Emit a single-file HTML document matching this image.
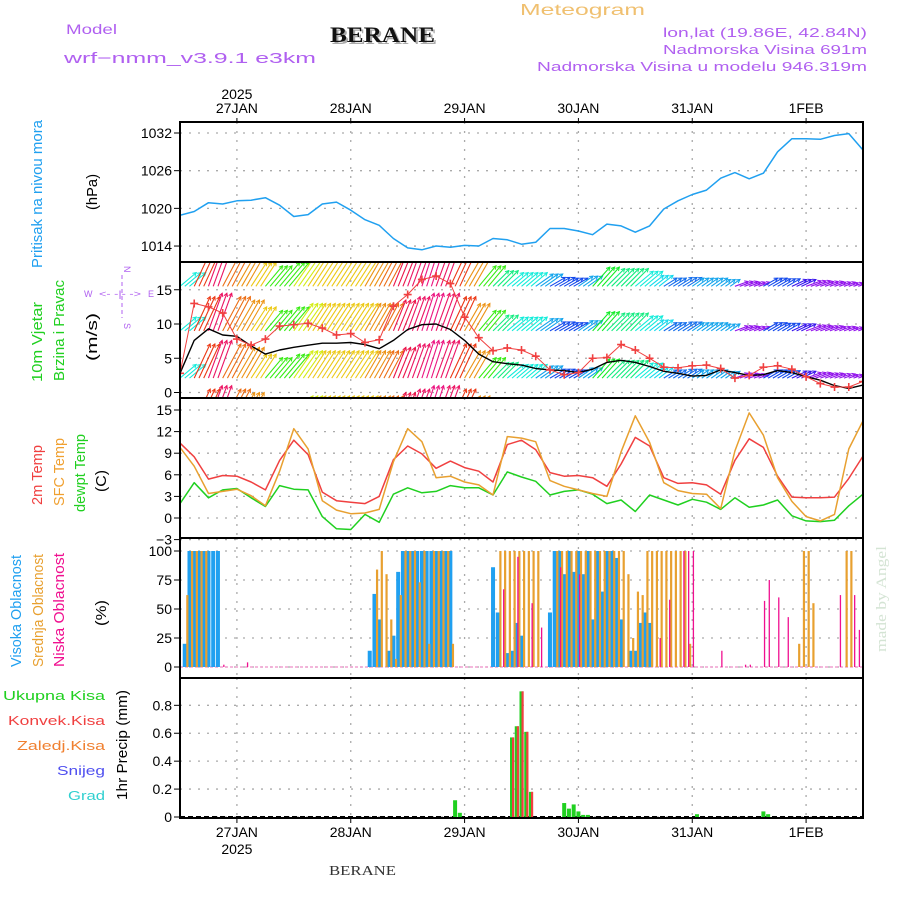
<!DOCTYPE html>
<html><head><meta charset="utf-8"><style>
html,body{margin:0;padding:0;background:#fff}
svg{display:block;font-family:"Liberation Sans",sans-serif}
</style></head><body>
<svg id="chart" width="900" height="900" viewBox="0 0 900 900" xmlns="http://www.w3.org/2000/svg">
<defs>
<clipPath id="cpP"><rect x="180" y="122" width="683" height="140"/></clipPath>
<clipPath id="cpW"><rect x="180" y="262" width="683" height="136"/></clipPath>
<clipPath id="cpT"><rect x="180" y="398" width="683" height="140"/></clipPath>
<clipPath id="cpC"><rect x="180" y="538" width="683" height="140"/></clipPath>
<clipPath id="cpR"><rect x="180" y="678" width="683" height="140"/></clipPath>
</defs>
<g id="header">
<text x="66" y="34" font-size="14" fill="#b060f0" textLength="51" lengthAdjust="spacingAndGlyphs">Model</text>
<text x="64" y="63" font-size="15" fill="#b060f0" textLength="252" lengthAdjust="spacingAndGlyphs">wrf−nmm_v3.9.1 e3km</text>
<text x="332" y="44" font-size="22" font-weight="bold" font-family="Liberation Serif,serif" fill="#aaa" textLength="105" lengthAdjust="spacingAndGlyphs">BERANE</text>
<text x="330" y="42" font-size="22" font-weight="bold" font-family="Liberation Serif,serif" fill="#111" textLength="105" lengthAdjust="spacingAndGlyphs">BERANE</text>
<text x="520" y="15" font-size="16" fill="#f0c070" textLength="125" lengthAdjust="spacingAndGlyphs">Meteogram</text>
<text x="663" y="37" font-size="13" fill="#b060f0" textLength="204" lengthAdjust="spacingAndGlyphs">lon,lat (19.86E, 42.84N)</text>
<text x="663" y="54" font-size="13" fill="#b060f0" textLength="204" lengthAdjust="spacingAndGlyphs">Nadmorska Visina 691m</text>
<text x="537" y="71" font-size="13" fill="#b060f0" textLength="330" lengthAdjust="spacingAndGlyphs">Nadmorska Visina u modelu 946.319m</text>
<text x="329" y="875" font-size="14" font-family="Liberation Serif,serif" fill="#333" textLength="67" lengthAdjust="spacingAndGlyphs">BERANE</text>
<text transform="translate(886,652) rotate(-90)" font-size="15" font-family="Liberation Serif,serif" fill="#d4e4d4" textLength="106" lengthAdjust="spacingAndGlyphs">made by Angel</text>
</g>
<g id="ylabels" font-size="15">
<text transform="translate(42,268) rotate(-90)" fill="#20a0f0" textLength="148" lengthAdjust="spacingAndGlyphs">Pritisak na nivou mora</text>
<text transform="translate(97,210) rotate(-90)" fill="#000" textLength="36" lengthAdjust="spacingAndGlyphs">(hPa)</text>
<text transform="translate(42,382) rotate(-90)" fill="#20d020" textLength="80" lengthAdjust="spacingAndGlyphs">10m Vjetar</text>
<text transform="translate(64,381) rotate(-90)" fill="#20d020" textLength="101" lengthAdjust="spacingAndGlyphs">Brzina i Pravac</text>
<text transform="translate(97,361) rotate(-90)" fill="#000" textLength="48" lengthAdjust="spacingAndGlyphs">(m/s)</text>
<g fill="#b060f0" font-size="9">
<text x="84" y="297">W</text><text x="148" y="297">E</text>
<text x="99" y="297" textLength="42" lengthAdjust="spacingAndGlyphs">&lt;- -|- -&gt;</text>
<text transform="translate(124,266) rotate(90)">N</text>
<text transform="translate(124,323) rotate(90)" >S</text>
<line x1="122" y1="275" x2="122" y2="318" stroke="#b060f0" stroke-dasharray="4,3"/>
</g>
<text transform="translate(42,505) rotate(-90)" fill="#f04040" textLength="60" lengthAdjust="spacingAndGlyphs">2m Temp</text>
<text transform="translate(64,506) rotate(-90)" fill="#f0a030" textLength="68" lengthAdjust="spacingAndGlyphs">SFC Temp</text>
<text transform="translate(85,512) rotate(-90)" fill="#20d020" textLength="78" lengthAdjust="spacingAndGlyphs">dewpt Temp</text>
<text transform="translate(106,492) rotate(-90)" fill="#000" textLength="22" lengthAdjust="spacingAndGlyphs">(C)</text>
<text transform="translate(21,667) rotate(-90)" fill="#20a0f0" textLength="112" lengthAdjust="spacingAndGlyphs">Visoka Oblacnost</text>
<text transform="translate(43,667) rotate(-90)" fill="#e8a030" textLength="113" lengthAdjust="spacingAndGlyphs">Srednja Oblacnost</text>
<text transform="translate(64,667) rotate(-90)" fill="#f01090" textLength="114" lengthAdjust="spacingAndGlyphs">Niska Oblacnost</text>
<text transform="translate(106,626) rotate(-90)" fill="#000" textLength="26" lengthAdjust="spacingAndGlyphs">(%)</text>
<text transform="translate(127,800) rotate(-90)" fill="#000" textLength="110" lengthAdjust="spacingAndGlyphs">1hr Precip (mm)</text>
<g font-size="13" text-anchor="end">
<text x="105" y="700" fill="#20d020" textLength="102" lengthAdjust="spacingAndGlyphs">Ukupna Kisa</text>
<text x="105" y="725" fill="#f04040" textLength="97" lengthAdjust="spacingAndGlyphs">Konvek.Kisa</text>
<text x="105" y="750" fill="#f08030" textLength="88" lengthAdjust="spacingAndGlyphs">Zaledj.Kisa</text>
<text x="105" y="775" fill="#5050f0" textLength="48" lengthAdjust="spacingAndGlyphs">Snijeg</text>
<text x="105" y="800" fill="#30d0d0" textLength="37" lengthAdjust="spacingAndGlyphs">Grad</text>
</g>
</g>
<g id="grid"></g>
<g id="marks"></g>
<g id="frames"></g>
</svg>
<script>
// ---- data (time in hours from 26JAN 12:00, 3-hourly unless noted) ----
const dayLabels = ["27JAN","28JAN","29JAN","30JAN","31JAN","1FEB"];
const dayHours = [12,36,60,84,108,132];
const pressTicks = [1014,1020,1026,1032];
const pressure = [1018.9,1019.5,1020.9,1020.7,1021.2,1021.3,1021.7,1020.5,1018.7,1019,1020.7,1021,1019.7,1018.2,1017.3,1015.2,1013.7,1013.4,1014,1013.8,1014.1,1014,1015.2,1015,1014.3,1014.6,1016.8,1016.8,1016.4,1015.8,1017.5,1017.2,1016.2,1017.2,1019.9,1021.2,1022.2,1022.9,1024.8,1025.7,1024.7,1025.6,1029,1031.1,1031.1,1031,1031.6,1031.9,1029.3];
const windTicks = [0,5,10,15];
const windSpeed = [2.8,7.6,9.3,8.4,8.2,6.8,5.6,6.2,6.6,6.9,7.2,7.2,7.3,7.0,6.4,7.6,9.2,9.9,10,9.2,7.6,5.6,4.5,4.2,4,3.5,3.3,3.2,2.9,3.4,4.4,4.7,4.4,3.8,3.1,2.8,2.4,2.5,3.3,2.9,2.5,2.6,3.2,2.9,2.3,1.8,1.0,0.6,1.1];
const windGust = [2.8,13,12.5,11.6,7.8,6.9,7.8,9.7,9.9,10.1,9.4,8.4,8.6,7.3,7.7,12.6,14.3,16.5,17,15.9,11,8,6.1,6.5,6.2,5.3,3.3,2.6,2.9,5,5.1,7,6.2,5,3.7,3.6,3.9,4,3.5,2.1,2.5,3.7,3.9,3.4,2.3,1.3,0.8,0.8,1.6];
const arrowRise = [2,5,5.5,5,4.5,3.5,3,3.5,4,4,4,4,4,4,4,4.5,5,5.5,5.5,5,4,3,2.3,2,2,1.8,1.3,1.2,1.5,2.8,2.6,2.6,2.2,1.6,1.2,1.3,1.2,1.2,1.0,0.7,0.6,1.2,1.1,1.0,0.8,0.7,0.6,0.5,0.4];
const arrowDir = [50,25,20,28,30,33,40,40,35,33,33,33,33,30,28,22,20,18,20,25,30,40,45,50,50,55,60,60,55,42,45,45,50,52,58,58,55,55,55,70,70,60,60,65,70,70,70,70,70];
const arrowRows = [15.5,9.0,2.1,-4.5];
const tempTicks = [-3,0,3,6,9,12,15];
const temp2m = [10.4,8.5,5.4,5.9,5.8,5.0,3.9,8.0,10.8,8.8,3.6,2.4,2.2,2.0,3.0,8.1,10.0,8.9,6.9,7.9,7.0,6.5,5.0,10.2,10.8,9.5,6.3,5.8,5.9,5.6,4.4,7.5,11.2,10.0,5.6,4.8,4.9,4.6,3.3,8.0,11.0,9.8,5.8,2.9,2.8,2.8,2.9,5.5,8.6];
const tempSfc = [9.8,7.2,3.4,3.7,4.0,3.1,1.7,6.5,12.4,9.6,2.4,1.1,0.6,0.7,1.2,7.8,12.4,10.6,5.6,5.8,5.0,4.6,3.2,11.3,11.1,10.6,5.2,4.4,3.9,3.4,3.0,9.2,14.2,10.5,4.9,3.8,3.4,3.3,1.3,9.3,14.6,11.5,5.6,2.3,0.2,-0.4,0.5,9.6,13.5];
const tempDew = [2,4.9,2.8,3.9,4.1,2.8,1.6,4.5,4.0,3.9,0.2,-1.5,-1.6,0.5,-0.6,3.3,4.2,3.5,3.7,4.5,4.2,4.2,3.2,6.4,5.7,5.1,3.2,3.7,3.9,3.3,2.0,2.5,0.9,3.2,2.5,1.8,2.6,2.2,1.2,2.8,1.5,1.8,2.5,0.3,-0.4,-0.5,-0.3,1.7,3.3];
const cloudTicks = [0,25,50,75,100];
// cloud cover, hourly (hour index, percent)
const highHours = [1,2,3,4,5,6,7,8,40,41,42,44,45,46,47,48,49,50,51,52,53,54,55,56,57,66,67,69,70,71,72,78,79,80,81,82,83,84,85,86,87,88,89,90,91,92,93,95,96,97,98,99];
const highValues = [20,100,100,100,100,100,100,100,14,63,41,14,27,82,100,100,100,100,100,100,100,100,100,100,100,86,47,12,14,38,27,47,100,100,80,100,82,100,80,100,41,100,65,100,100,94,41,14,14,38,47,38];
const midHours = [1,2,3,4,5,41,42,43,44,45,46,47,48,49,50,51,52,53,54,55,56,57,67,68,69,70,71,72,73,74,75,79,80,81,82,83,84,85,86,87,88,89,90,91,92,93,94,95,96,97,98,99,100,101,102,103,104,105,106,107,130,131,132,133,140,141];
const midValues = [62,100,100,100,100,84,100,80,41,7,62,100,100,100,73,100,20,100,100,100,100,20,100,100,100,100,100,100,100,100,100,100,100,100,100,100,100,100,100,100,100,100,100,100,100,100,80,25,65,62,100,100,100,100,100,100,100,100,100,20,20,100,100,55,100,100];
const lowHours = [9,14,68,71,74,76,80,84,101,103,106,107,108,114,119,120,123,124,126,128,139,142,143];
const lowValues = [2,4,67,95,55,34,86,80,25,58,100,100,100,14,2,2,57,75,60,43,62,62,32];
const precipTicks = [0,0.2,0.4,0.6,0.8];
const precipHours = [58,59,70,71,72,73,74,81,82,83,84,85,86,109,123,124];
const precipTotal = [0.12,0.03,0.57,0.65,0.9,0.61,0.18,0.1,0.06,0.09,0.04,0.015,0.015,0.02,0.04,0.02];
const precipConv = [0,0,0.57,0.65,0.9,0.61,0.18,0,0,0,0,0,0,0,0,0];

// ---- scales ----
const X0=180, X1=863, HMAX=144;
const xS = h => X0 + h*(X1-X0)/HMAX;
const yP = p => 133 + (1032-p)*6.28;
const yW = v => 392.5 - v*6.85;
const yT = t => 518 - t*7.2;
const yC = c => 667 - c*1.16;
const yR = r => 817 - r*139.6;
const panels = [[122,262,'cpP'],[262,398,'cpW'],[398,538,'cpT'],[538,678,'cpC'],[678,818,'cpR']];

const NS='http://www.w3.org/2000/svg';
function mk(tag, attrs, parent){const e=document.createElementNS(NS,tag);for(const k in attrs)e.setAttribute(k,attrs[k]);parent.appendChild(e);return e;}
const grid=document.getElementById('grid'), marks=document.getElementById('marks'), frames=document.getElementById('frames');
const tH = i => i*3;

function yAxis(ticks, f, labelFmt, name){
  ticks.forEach(v=>{
    const y=f(v);
    const g=mk('line',{x1:X0,x2:X1,y1:y,y2:y,stroke:'#aaa','stroke-dasharray':'2,7','stroke-width':1.3},grid);
    
    
    mk('line',{x1:X0-6,x2:X0,y1:y,y2:y,stroke:'#000'},grid);
    const t=mk('text',{x:X0-8,y:y+5,'font-size':14,'text-anchor':'end',fill:'#000'},grid);
    
    
    t.textContent=labelFmt(v);
  });
}
dayHours.forEach((h,i)=>{
  const x=xS(h);
  panels.forEach(p=>{
    const l=mk('line',{x1:x,x2:x,y1:p[0],y2:p[1],stroke:'#aaa','stroke-dasharray':'2,7','stroke-width':1.3},grid);
    
    
  });
  const t=mk('text',{x:x,y:113,'font-size':14,'text-anchor':'middle',fill:'#000'},grid);
  
  
  t.textContent=dayLabels[i];
  const b=mk('text',{x:x,y:837,'font-size':14,'text-anchor':'middle',fill:'#000'},grid);
  
  
  b.textContent=dayLabels[i];
  mk('line',{x1:x,x2:x,y1:118,y2:122,stroke:'#000'},grid);
  mk('line',{x1:x,x2:x,y1:818,y2:823,stroke:'#000'},grid);
});
{const t=mk('text',{x:xS(12),y:99,'font-size':14,'text-anchor':'middle',fill:'#000'},grid);t.textContent='2025';
 const b=mk('text',{x:xS(12),y:854,'font-size':14,'text-anchor':'middle',fill:'#000'},grid);b.textContent='2025';}
yAxis(pressTicks,yP,v=>v,'pressure');
yAxis(windTicks,yW,v=>v,'wind');
yAxis(tempTicks,yT,v=>v<0?'−'+(-v):v,'temp');
yAxis(cloudTicks,yC,v=>v,'cloud');
yAxis(precipTicks,yR,v=>v===0?'0':v.toFixed(1),'precip');

function line(vals, fx, fy, color, clip, name, w){
  const pts=vals.map((v,i)=>fx(i).toFixed(1)+','+fy(v).toFixed(1)).join(' ');
  const p=mk('polyline',{points:pts,fill:'none',stroke:color,'stroke-width':w||1.5,'clip-path':'url(#'+clip+')','stroke-linejoin':'round'},marks);
  
  
  return p;
}
const fx = i => xS(tH(i));

// pressure
line(pressure, fx, yP, '#20a0f0', 'cpP', 'pressure-line');

// wind arrows (each 3-hourly sample drawn for each hour of its period)
const hueStops=[[18,330],[22,345],[25,10],[28,25],[33,50],[40,110],[45,150],[50,175],[55,200],[60,225],[65,250],[70,275]];
function hueOf(d){
  if(d<=hueStops[0][0])return hueStops[0][1];
  for(let k=1;k<hueStops.length;k++){if(d<=hueStops[k][0]){const a=hueStops[k-1],b=hueStops[k];let h0=a[1],h1=b[1];if(h1<h0-180)h1+=360;return (h0+(h1-h0)*(d-a[0])/(b[0]-a[0]))%360;}}
  return hueStops[hueStops.length-1][1];
}
const gA=mk('g',{'clip-path':'url(#cpW)'},marks);


arrowRows.forEach(base=>{
  arrowRise.forEach((r,i)=>{
    const reps = i<arrowRise.length-1 ? 3 : 1;
    for(let k=0;k<reps;k++){
      const x=xS(tH(i)+k), y=yW(base);
      const ty=yW(base+r), rise=y-ty;
      const tx=x+rise*Math.tan(arrowDir[i]*Math.PI/180);
      const col='hsl('+hueOf(arrowDir[i]).toFixed(0)+',85%,50%)';
      const a=mk('line',{x1:x,y1:y,x2:tx,y2:ty,stroke:col,'stroke-width':1.1},gA);
      
      
      const ang=Math.atan2(ty-y,tx-x);
      mk('path',{d:`M${(tx-4*Math.cos(ang+0.5)).toFixed(1)},${(ty-4*Math.sin(ang+0.5)).toFixed(1)}L${tx.toFixed(1)},${ty.toFixed(1)}L${(tx-4*Math.cos(ang-0.5)).toFixed(1)},${(ty-4*Math.sin(ang-0.5)).toFixed(1)}`,stroke:col,fill:'none','stroke-width':1},gA);
    }
  });
});
line(windSpeed, fx, yW, '#000', 'cpW', 'wind-speed-line', 1.4);
line(windGust, fx, yW, '#f04040', 'cpW', 'wind-gust-line', 1);
windGust.forEach((v,i)=>{
  const x=fx(i), y=yW(v);
  const c=mk('path',{d:`M${x-4},${y}H${x+4}M${x},${y-4}V${y+4}`,stroke:'#f04040','stroke-width':1.6,'clip-path':'url(#cpW)'},marks);
  
  
});

// temperatures
line(tempDew, fx, yT, '#20d020', 'cpT', 'dewpoint-line');
line(temp2m, fx, yT, '#f04040', 'cpT', 'temp-2m-line');
line(tempSfc, fx, yT, '#e8a030', 'cpT', 'temp-sfc-line');

// clouds
mk('line',{x1:X0,x2:X1,y1:yC(0),y2:yC(0),stroke:'#f0a0d0','stroke-width':1.5,'stroke-dasharray':'3,2'},marks);
highHours.forEach((h,i)=>{
  const y=yC(highValues[i]);
  const r=mk('rect',{x:xS(h)-2,y:y,width:4,height:yC(0)-y,fill:'#20a0f0'},marks);
  
  
});
midHours.forEach((h,i)=>{
  const y=yC(midValues[i]);
  const r=mk('rect',{x:xS(h)+1.5,y:y,width:2.2,height:yC(0)-y,fill:'#e8a030'},marks);
  
  
});
lowHours.forEach((h,i)=>{
  const y=yC(lowValues[i]);
  const r=mk('rect',{x:xS(h)+0.5,y:y,width:1.3,height:yC(0)-y,fill:'#f01090'},marks);
  
  
});

// precipitation
mk('line',{x1:X0,x2:X1,y1:817,y2:817,stroke:'#000','stroke-width':2,'stroke-dasharray':'5,3'},marks);
precipHours.forEach((h,i)=>{
  const x=xS(h);
  const y=yR(precipTotal[i]);
  const r=mk('rect',{x:x-2,y:y,width:4,height:yR(0)-y,fill:'#20d020'},marks);
  
  
  if(precipConv[i]>0){
    const yc=yR(precipConv[i]);
    const c=mk('rect',{x:x,y:yc,width:2.2,height:yR(0)-yc,fill:'#f04040'},marks);
    
    
  }
});

// frames
panels.forEach((p,i)=>{
  const r=mk('rect',{x:X0,y:p[0],width:X1-X0,height:p[1]-p[0],fill:'none',stroke:'#000','stroke-width':2},frames);
  
  
});
</script>
</body></html>
